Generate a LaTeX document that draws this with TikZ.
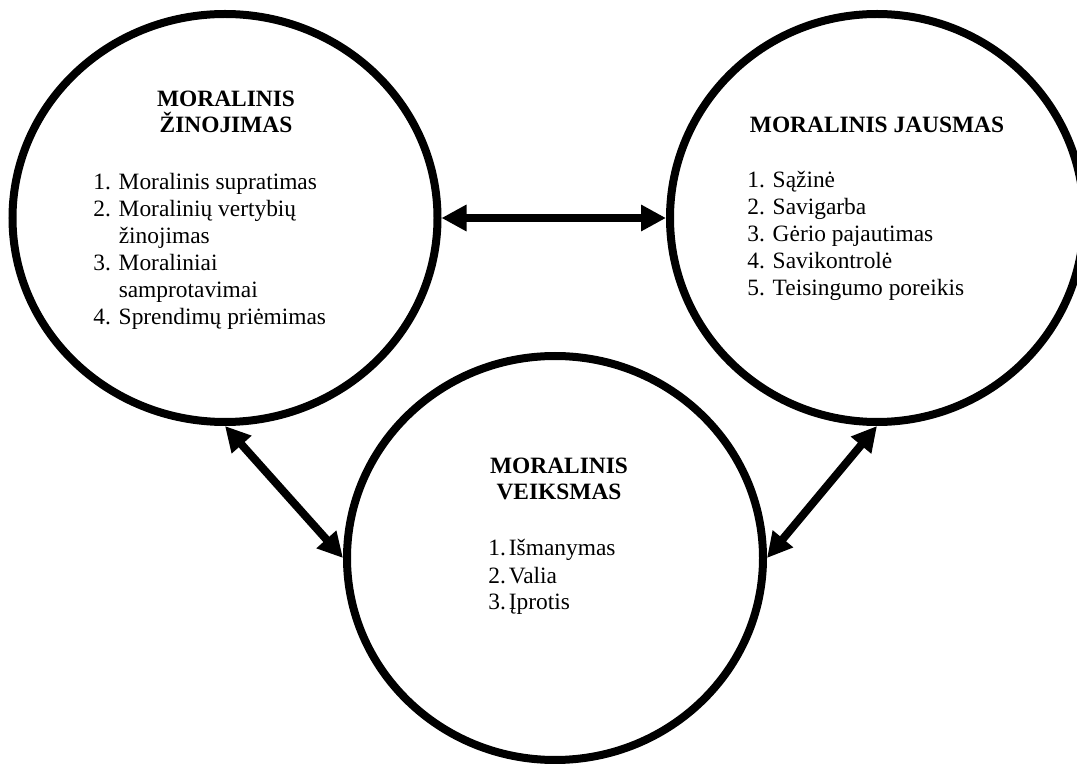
\documentclass[tikz,border=0pt]{standalone}
\usepackage{fontspec}
\setmainfont{Liberation Serif}
\usetikzlibrary{arrows.meta,shapes.geometric}

\tikzset{
  ratas/.style={draw, ellipse, line width=4pt, inner sep=0pt},
  rodykle/.style={line width=4pt,
    {Triangle[length=12.5pt,width=12.5pt]}-{Triangle[length=12.5pt,width=12.5pt]}},
  antraste/.style={font=\fontsize{11.7}{13}\selectfont\bfseries, align=center,
    anchor=base, inner sep=0pt},
  sarasas/.style={anchor=base west, inner sep=0pt}
}

\begin{document}
\begin{tikzpicture}[x=0.5pt, y=-0.5pt, font=\fontsize{11.7}{13.5}\selectfont]
    \useasboundingbox (0,0) rectangle (1077,764);

    % ---- Circles ----
    \node[ratas, minimum width=212.5pt, minimum height=204pt] (zin) at (225,218) {};
    \node[ratas, minimum width=207pt, minimum height=204pt] (jaus) at (877,218) {};
    \node[ratas, minimum width=208pt, minimum height=202pt] (veik) at (555,558) {};

    % ---- Moral knowledge (left) ----
    \node[antraste] (zin-title) at (226,133) {MORALINIS\\ŽINOJIMAS};
    \node[sarasas] (zin-list) at (93,190) {\begin{tabular}[t]{@{}l@{ }l@{}}
      1. & Moralinis supratimas\\
      2. & Moralinių vertybių\\
         & žinojimas\\
      3. & Moraliniai\\
         & samprotavimai\\
      4. & Sprendimų priėmimas
    \end{tabular}};

    % ---- Moral feeling (right) ----
    \node[antraste] (jaus-title) at (877,133) {MORALINIS JAUSMAS};
    \node[sarasas] (jaus-list) at (747,188) {\begin{tabular}[t]{@{}l@{ }l@{}}
      1. & Sąžinė\\
      2. & Savigarba\\
      3. & Gėrio pajautimas\\
      4. & Savikontrolė\\
      5. & Teisingumo poreikis
    \end{tabular}};

    % ---- Moral action (bottom) ----
    \node[antraste] (veik-title) at (559,500) {MORALINIS\\VEIKSMAS};
    \node[sarasas] (veik-list) at (488,556) {\begin{tabular}[t]{@{}l@{\hspace{1.5pt}}l@{}}
      1. & Išmanymas\\
      2. & Valia\\
      3. & Įprotis
    \end{tabular}};

    % ---- Links ----
    \draw[rodykle] (zin.east) -- (jaus.west);
    \draw[rodykle] (zin.south) -- (veik.west);
    \draw[rodykle] (jaus.south) -- (veik.east);
\end{tikzpicture}
\end{document}
